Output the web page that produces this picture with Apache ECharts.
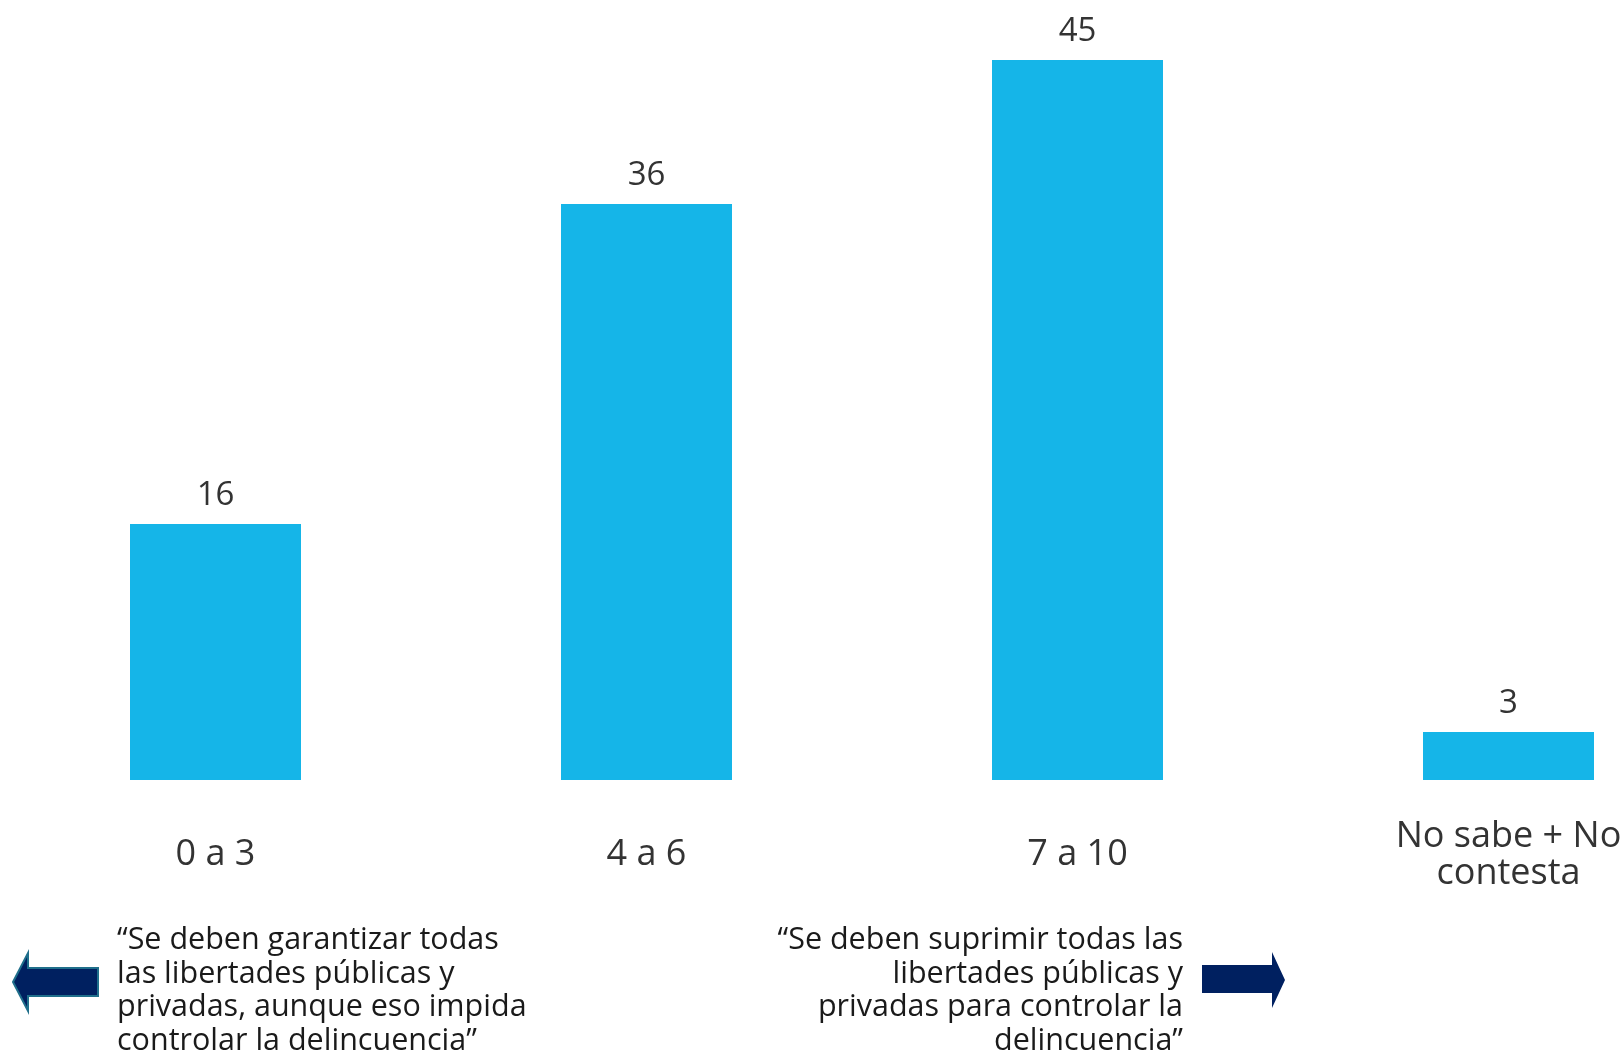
<!DOCTYPE html>
<html>
<head>
<meta charset="utf-8">
<script src="https://cdn.jsdelivr.net/npm/echarts@6/dist/echarts.min.js"></script>
<style>
html,body{margin:0;padding:0;background:#fff;}
#c{width:1624px;height:1050px;}
</style>
</head>
<body>
<div id="c"></div>
<script>
const categories = ['0 a 3', '4 a 6', '7 a 10', 'No sabe + No contesta'];
const values = [16, 36, 45, 3];
const leftNote = ['“Se deben garantizar todas', 'las libertades públicas y', 'privadas, aunque eso impida', 'controlar la delincuencia”'];
const rightNote = ['“Se deben suprimir todas las', 'libertades públicas y', 'privadas para controlar la', 'delincuencia”'];

const FONT = 'Open Sans';
const chart = echarts.init(document.getElementById('c'), null, {renderer: 'canvas'});
chart.setOption({
  backgroundColor: '#ffffff',
  animation: false,
  grid: {left: 0, width: 1724, top: 12, bottom: 270, containLabel: false, outerBoundsMode: 'none'},
  xAxis: {
    type: 'category',
    data: categories,
    axisLine: {show: false},
    axisTick: {show: false},
    axisLabel: {
      margin: 75,
      verticalAlign: 'middle',
      fontFamily: FONT,
      fontSize: 36,
      lineHeight: 37,
      color: '#333333',
      formatter: v => v.replace('+ No ', '+ No\n')
    }
  },
  yAxis: {
    type: 'value', min: 0, max: 48,
    show: false, splitLine: {show: false}
  },
  series: [{
    type: 'bar',
    data: values,
    barWidth: 171,
    itemStyle: {color: '#15B5E8'},
    label: {
      show: true, position: 'top', distance: 12,
      fontFamily: FONT, fontSize: 33, color: '#333333'
    }
  }],
  graphic: [
    {
      type: 'polygon',
      shape: {points: [[13, 982], [28, 953], [28, 968], [98, 968], [98, 996], [28, 996], [28, 1011]]},
      style: {fill: '#002060', stroke: '#1f6f8b', lineWidth: 2}
    },
    {
      type: 'polygon',
      shape: {points: [[1202, 965], [1272, 965], [1272, 952], [1285, 980], [1272, 1008], [1272, 993], [1202, 993]]},
      style: {fill: '#002060'}
    },
    {
      type: 'text', left: 117, top: 924,
      style: {text: leftNote.join('\n'), fontFamily: FONT, fontSize: 30.5, lineHeight: 33.5, fill: '#1a1a1a', textAlign: 'left'}
    },
    {
      type: 'text', right: 1624 - 1183, top: 924,
      style: {text: rightNote.join('\n'), fontFamily: FONT, fontSize: 30.5, lineHeight: 33.5, fill: '#1a1a1a', textAlign: 'right'}
    }
  ]
});
</script>
</body>
</html>
